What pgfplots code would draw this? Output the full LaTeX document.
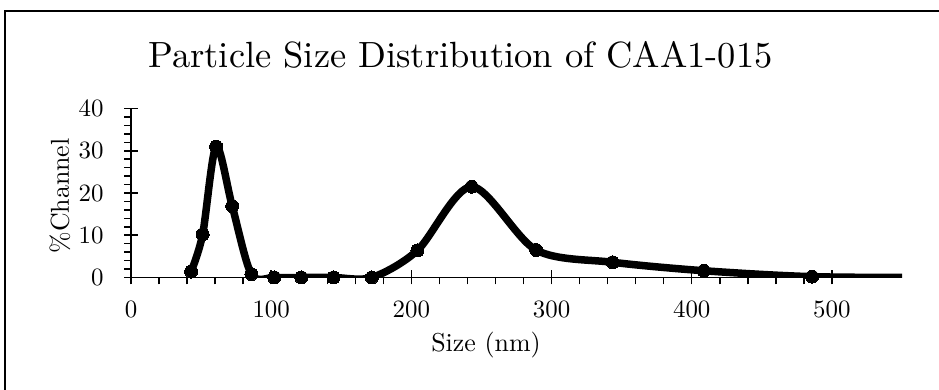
\documentclass[border=0pt]{standalone}
\usepackage{fontspec}
\setmainfont{lmroman10-regular}[Extension=.otf, BoldFont=lmroman10-bold, ItalicFont=lmroman10-italic, BoldItalicFont=lmroman10-bolditalic]
\usepackage{pgfplots}
\pgfplotsset{compat=1.18}
\begin{document}
\begin{tikzpicture}
\path[use as bounding box] (0,0) rectangle (939bp,390bp);
\begin{axis}[
  at={(131bp,112.5bp)}, anchor=south west,
  scale only axis, width=771bp, height=169bp,
  xmin=0, xmax=550, ymin=0, ymax=40,
  axis x line=bottom, axis y line=left,
  axis line style={-, line width=1.5bp, black},
  xtick={0,100,...,500}, ytick={0,10,...,40},
  minor x tick num=4, minor y tick num=4,
  tick align=outside,
  major tick length=7bp, minor tick length=7bp,
  tick style={line width=1.5bp, black},
  extra x ticks={0,100,...,500}, extra x tick labels={,,,,,},
  extra y ticks={0,10,...,40}, extra y tick labels={,,,,},
  extra tick style={tick align=inside, major tick length=7bp},
  /pgf/number format/assume math mode=true,
  ticklabel style={font=\fontsize{25}{29}\selectfont},
  xticklabel style={anchor=center, yshift=-25bp},
  yticklabel style={anchor=east, xshift=-17bp},
  clip=true,
]
\addplot[black, line width=7.5bp, smooth, tension=0.5, mark=*, mark size=6.5bp,
  mark options={solid, line width=0bp, fill=black}]
  coordinates {
  (42.9,1.4) (51.1,10.2) (60.7,31.0) (72.2,16.9) (85.9,0.8)
  (102.2,0) (121.5,0) (144.5,0) (171.8,0) (204.3,6.4)
  (243.0,21.5) (289.0,6.5) (343.6,3.6) (408.6,1.6) (485.9,0.2)
  (577.9,0)
  };
\end{axis}
\draw[line width=1.5bp, black] (5bp,0) -- (5bp,379bp) -- (939bp,379bp);
\node[font=\fontsize{36.6}{40}\selectfont] at (460.5bp,335bp) {Particle Size Distribution of CAA1-015};
\node[font=\fontsize{26}{30}\selectfont] at (486bp,45bp) {Size (nm)};
\node[font=\fontsize{26}{30}\selectfont, rotate=90] at (60bp,194bp) {\%Channel};
\end{tikzpicture}
\end{document}
